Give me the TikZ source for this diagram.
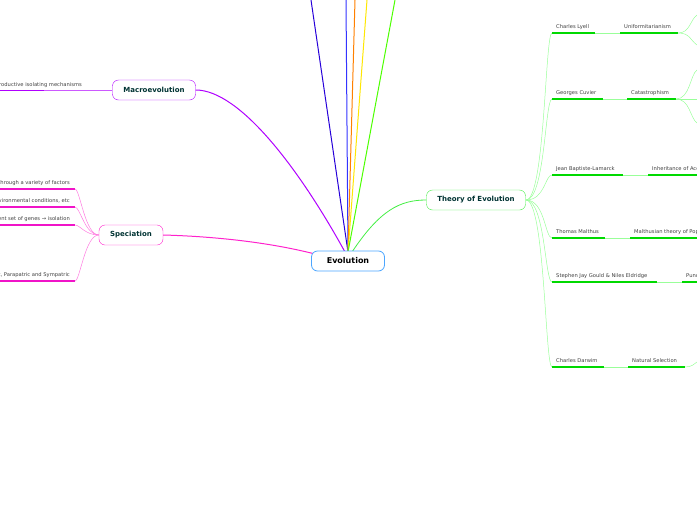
\documentclass[tikz,border=0pt]{standalone}
\usepackage{fontspec}
\setmainfont{DejaVu Sans}
\begin{document}
\begin{tikzpicture}[x=1pt,y=-1pt,
  topic/.style={draw,rounded corners=6pt,fill=white,font=\fontsize{7}{8}\selectfont\bfseries,text=teal!40!black,minimum height=20pt},
  lbl/.style={font=\fontsize{5.2}{6}\selectfont,text=black!75,inner sep=0pt,anchor=base west},
  lblr/.style={font=\fontsize{5.2}{6}\selectfont,text=black!75,inner sep=0pt,anchor=base east},
  ul/.style={line width=1.3pt,green!85!black},
  thin/.style={line width=0.5pt,green!40!white},
  sul/.style={line width=1.3pt,draw={rgb,255:red,240;green,20;blue,200}}]
\useasboundingbox (0,0) rectangle (697,520);
\clip (0,0) rectangle (697,520);
\definecolor{macc}{HTML}{B000FF}\definecolor{spec}{HTML}{FF22CC}\definecolor{grc}{HTML}{44EE44}
% top branches
\coordinate (c) at (348,252);
\draw[line width=1pt,color=blue!70!violet] (c) -- (311,0);
\draw[line width=1pt,color=blue!80!white] (c) -- (346,0);
\draw[line width=1pt,color=orange] (c) -- (355,0);
\draw[line width=1pt,color=yellow!90!orange] (c) -- (367,0);
\draw[line width=1pt,color=green!70!yellow] (c) -- (395,0);
% nodes
\node[topic,draw=macc,minimum width=83pt] (mac) at (154,90) {Macroevolution};
\node[topic,draw=spec,minimum width=64pt] (spe) at (131,235) {Speciation};
\node[topic,draw=grc,minimum width=99pt] (th) at (476,200) {Theory of Evolution};
\draw[line width=1pt,color=macc] (345,252) .. controls (300,170) and (240,90) .. (mac.east);
\draw[line width=1pt,color=spec] (315,254) .. controls (260,240) and (200,236) .. (spe.east);
\draw[line width=0.8pt,color=grc] (352,252) .. controls (380,210) and (400,200) .. (th.west);
\node[topic,draw=blue!50!cyan!70!white,minimum width=73pt,line width=0.8pt,font=\fontsize{8}{9}\selectfont\bfseries,text=black] (ev) at (348,261) {Evolution};
% macro children
\draw[color=macc,line width=1pt] (mac.west) -- (87,90) coordinate (m1) -- (0,90);
\node[lblr] (mt) at (82,86) {Reproductive isolating mechanisms};
% speciation children
\foreach \y/\t [count=\i] in {189/Occurs through a variety of factors,207/{Different environmental conditions, etc},225/Different set of genes → isolation,281/{Allopatric, Parapatric and Sympatric}}{
  \draw[color=spec!60!white,line width=0.5pt] (spe.west) .. controls (85,235) and (80,\y) .. (75,\y);
  \path[sul] (75,\y) -- (0,\y);
  \node[lblr] (s\i) at (70,\y-5) {\t};
}
% theory children
\coordinate (tw) at (526,200);
\foreach \y/\a/\b/\c/\d/\p/\q [count=\i] in {
 33/552/595/620/678/Charles Lyell/Uniformitarianism,
 99/552/603/627/676/Georges Cuvier/Catastrophism,
 175/552/623/648/697/Jean Baptiste-Lamarck/Inheritance of Acquired Characteristics,
 238/552/605/630/697/Thomas Malthus/Malthusian theory of Population,
 282/552/657/682/697/Stephen Jay Gould \& Niles Eldridge/Punctuated Equilibrium,
 367/552/604/628/685/Charles Darwim/Natural Selection}{
  \draw[thin] (tw) .. controls (545,200) and (545,\y) .. (\a,\y);
  \draw[ul] (\a,\y) -- (\b,\y);
  \draw[thin,line width=1pt] (\b,\y) -- (\c,\y);
  \draw[ul] (\c,\y) -- (\d,\y);
  \node[lbl] (p\i) at (\a+4,\y-5) {\p};
  \node[lbl] (q\i) at (\c+4,\y-5) {\q};
}
\draw[thin] (678,33) .. controls (690,33) and (690,20) .. (697,15);
\draw[thin] (678,33) .. controls (690,33) and (690,40) .. (697,45);
\draw[thin] (676,99) .. controls (690,99) and (690,75) .. (697,70);
\draw[thin] (676,99) -- (697,99);
\draw[thin] (676,99) .. controls (690,99) and (690,118) .. (697,123);
\draw[thin] (685,367) .. controls (692,367) and (694,364) .. (697,362);
\end{tikzpicture}
\end{document}
